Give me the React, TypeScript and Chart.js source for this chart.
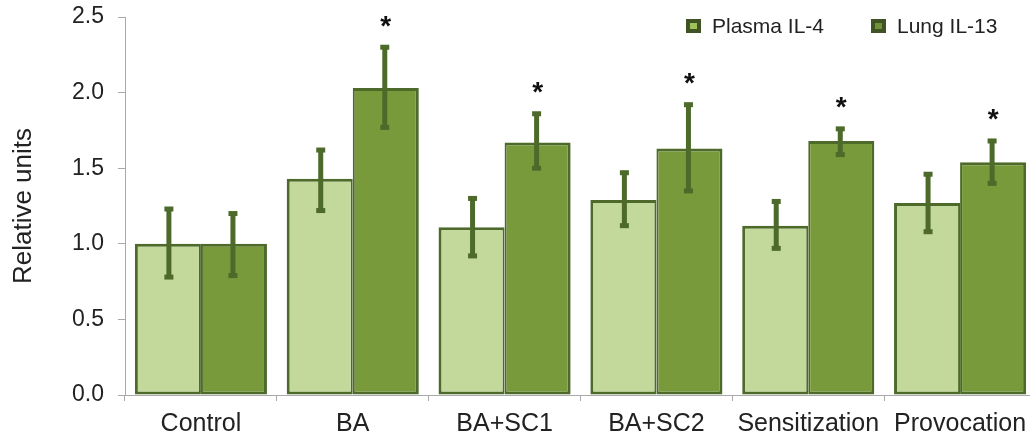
import React, { useEffect, useRef } from "react";
import { Chart, registerables } from "chart.js";

Chart.register(...registerables);

const categories = ["Control", "BA", "BA+SC1", "BA+SC2", "Sensitization", "Provocation"];
const seriesNames = ["Plasma IL-4", "Lung IL-13"];
const plasmaIL4 = [1.0, 1.43, 1.11, 1.29, 1.12, 1.27];
const plasmaIL4Low = [0.77, 1.21, 0.91, 1.11, 0.96, 1.07];
const plasmaIL4High = [1.24, 1.63, 1.31, 1.48, 1.29, 1.47];
const lungIL13 = [1.0, 2.03, 1.67, 1.63, 1.68, 1.54];
const lungIL13Low = [0.78, 1.76, 1.49, 1.34, 1.58, 1.39];
const lungIL13High = [1.21, 2.31, 1.87, 1.93, 1.77, 1.69];
const significant = [false, true, true, true, true, true];
const yTicks = [0, 0.5, 1.0, 1.5, 2.0, 2.5];

const LIGHT = "#c3d89b";
const DARK = "#789a3a";
const EDGE = "#4d6a2b";
const AXIS = "#a9a9a9";
const FONT = "'Liberation Sans', Arial, sans-serif";

export default function App() {
  const ref = useRef<HTMLCanvasElement | null>(null);

  useEffect(() => {
    if (!ref.current) return;
    const errLow = [plasmaIL4Low, lungIL13Low];
    const errHigh = [plasmaIL4High, lungIL13High];

    const extras = {
      id: "extras",
      afterDatasetsDraw(chart: any) {
        const ctx = chart.ctx;
        const y = chart.scales.y;
        ctx.save();
        // error bars
        for (let d = 0; d < 2; d++) {
          const meta = chart.getDatasetMeta(d);
          meta.data.forEach((bar: any, i: number) => {
            const x = bar.x + (d === 0 ? 1 : -1);
            const yt = y.getPixelForValue(errHigh[d][i]);
            const yb = y.getPixelForValue(errLow[d][i]);
            ctx.fillStyle = EDGE;
            ctx.fillRect(x - 2.5, yt, 5, yb - yt);
            ctx.fillRect(x - 4.5, yt - 1, 9, 5);
            ctx.fillRect(x - 4.5, yb - 4, 9, 5);
          });
        }
        // significance stars
        const meta1 = chart.getDatasetMeta(1);
        ctx.fillStyle = "#111";
        ctx.font = `bold 28px ${FONT}`;
        ctx.textAlign = "center";
        ctx.textBaseline = "alphabetic";
        meta1.data.forEach((bar: any, i: number) => {
          if (!significant[i]) return;
          const yt = y.getPixelForValue(errHigh[1][i]);
          ctx.fillText("*", bar.x, yt - 11);
        });
        // legend
        const area = chart.chartArea;
        const ly = area.top + 9;
        const starts = [686, 871];
        const fills = [LIGHT, DARK];
        ctx.font = `21px ${FONT}`;
        ctx.textAlign = "left";
        ctx.textBaseline = "middle";
        seriesNames.forEach((name, k) => {
          const lx = starts[k];
          ctx.fillStyle = "#3f5324";
          ctx.fillRect(lx, ly - 7, 15, 14);
          ctx.fillStyle = fills[k] === LIGHT ? "#9fc25a" : "#6f9236";
          ctx.fillRect(lx + 4, ly - 3, 7, 6);
          ctx.fillStyle = "#222";
          ctx.fillText(name, lx + 26, ly + 1);
        });
        ctx.restore();
      },
    };

    const chart = new Chart(ref.current, {
      type: "bar",
      data: {
        labels: categories,
        datasets: [
          {
            label: seriesNames[0],
            data: plasmaIL4,
            backgroundColor: LIGHT,
            borderColor: EDGE,
            borderWidth: { top: 3, left: 3, bottom: 3, right: 2 },
            borderSkipped: false,
            categoryPercentage: 0.87,
            barPercentage: 1.0,
          },
          {
            label: seriesNames[1],
            data: lungIL13,
            backgroundColor: DARK,
            borderColor: EDGE,
            borderWidth: { top: 3, left: 2, bottom: 3, right: 3 },
            borderSkipped: false,
            categoryPercentage: 0.87,
            barPercentage: 1.0,
          },
        ],
      },
      options: {
        animation: false,
        responsive: false,
        maintainAspectRatio: false,
        layout: { padding: { left: 0, right: 64, top: 17, bottom: 0 } },
        plugins: { legend: { display: false }, tooltip: { enabled: false } },
        scales: {
          x: {
            grid: { display: true, drawOnChartArea: false, color: AXIS, tickLength: 6, offset: true },
            border: { display: true, color: AXIS, width: 1 },
            ticks: { color: "#222", font: { family: FONT, size: 25 }, padding: 8, maxRotation: 0, autoSkip: false },
            afterFit(scale: any) {
              scale.height = 46;
              scale.paddingLeft = 0;
              scale.paddingRight = 0;
            },
          },
          y: {
            min: 0,
            max: 2.5,
            afterBuildTicks(scale: any) {
              scale.ticks = yTicks.map((v) => ({ value: v }));
            },
            grid: { display: true, drawOnChartArea: false, color: AXIS, tickLength: 7 },
            border: { display: true, color: AXIS, width: 1 },
            ticks: {
              color: "#222",
              font: { family: FONT, size: 23 },
              padding: 14,
              callback: (v: any) => Number(v).toFixed(1),
            },
            title: {
              display: true,
              text: "Relative units",
              color: "#222",
              font: { family: FONT, size: 26, weight: "normal" },
              padding: { top: 8, bottom: 0 },
            },
            afterFit(scale: any) {
              scale.width = 125;
              scale.paddingTop = 10;
              scale.paddingBottom = 10;
            },
          },
        },
      },
      plugins: [extras],
    });
    return () => chart.destroy();
  }, []);

  return (
    <div style={{ position: "fixed", left: 0, top: 0, width: 1030, height: 441, overflow: "hidden", background: "#fff" }}>
      <canvas ref={ref} width={1100} height={441} style={{ width: 1100, height: 441, display: "block" }} />
    </div>
  );
}
